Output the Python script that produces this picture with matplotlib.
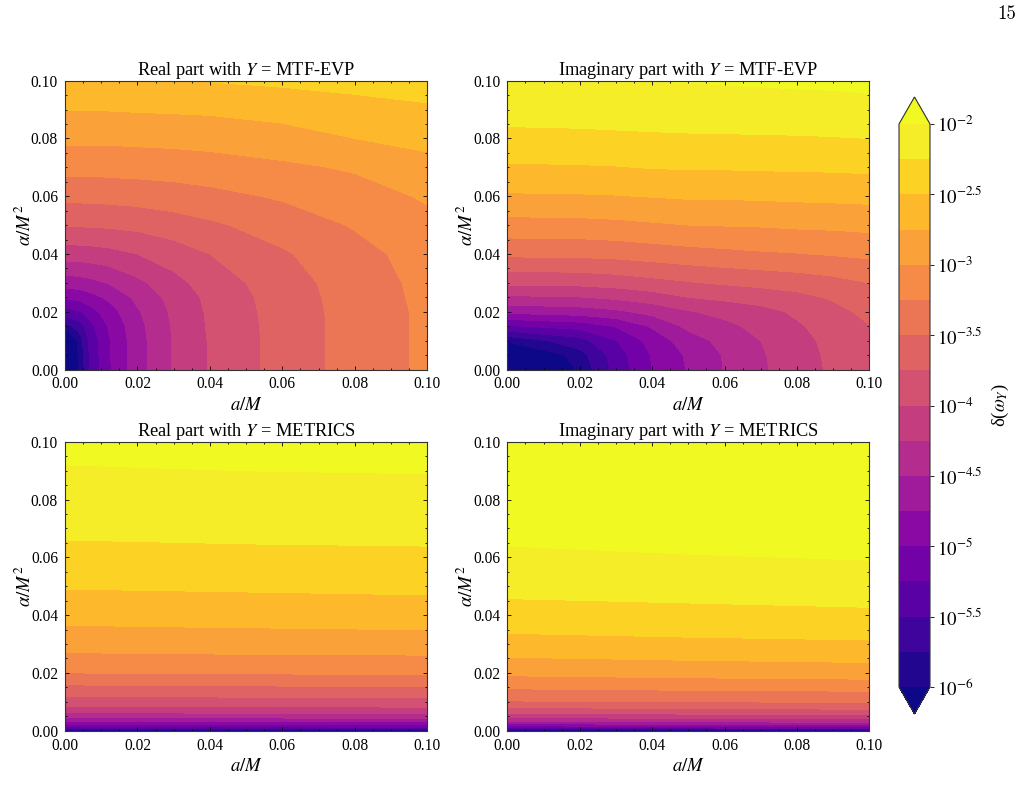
import matplotlib
matplotlib.use('Agg')
import matplotlib.pyplot as plt
from matplotlib.ticker import MultipleLocator

plt.rcParams['font.family'] = ['Liberation Serif', 'DejaVu Serif']
plt.rcParams['mathtext.fontset'] = 'stix'
plt.rcParams['axes.unicode_minus'] = False

# log10 of the relative difference on each (alpha, a) node
a_top_left = [0, .004, .007, .012, .02, .03, .04, .06, .08, .1]
alpha_top_left = [0, .01, .015, .02, .025, .03, .04, .05, .06, .07, .08, .09, .1]
real_evp = [
    [-7.00, -5.97, -5.46, -5.04, -4.60, -4.23, -3.98, -3.65, -3.40, -3.20],
    [-6.60, -5.88, -5.43, -5.03, -4.60, -4.23, -3.98, -3.65, -3.40, -3.20],
    [-5.87, -5.62, -5.32, -4.98, -4.58, -4.22, -3.97, -3.65, -3.40, -3.20],
    [-5.37, -5.27, -5.11, -4.87, -4.53, -4.20, -3.96, -3.64, -3.40, -3.20],
    [-4.96, -4.92, -4.84, -4.70, -4.44, -4.16, -3.94, -3.63, -3.39, -3.19],
    [-4.63, -4.61, -4.57, -4.49, -4.31, -4.08, -3.89, -3.61, -3.38, -3.18],
    [-4.13, -4.12, -4.11, -4.08, -4.00, -3.88, -3.75, -3.53, -3.33, -3.15],
    [-3.73, -3.73, -3.72, -3.71, -3.68, -3.61, -3.54, -3.39, -3.23, -3.07],
    [-3.43, -3.43, -3.43, -3.42, -3.40, -3.37, -3.32, -3.22, -3.11, -2.97],
    [-3.17, -3.17, -3.17, -3.16, -3.15, -3.13, -3.11, -3.05, -2.97, -2.83],
    [-2.95, -2.95, -2.95, -2.95, -2.94, -2.93, -2.91, -2.84, -2.75, -2.68],
    [-2.74, -2.74, -2.74, -2.74, -2.73, -2.72, -2.71, -2.67, -2.60, -2.54],
    [-2.55, -2.55, -2.55, -2.55, -2.54, -2.51, -2.49, -2.45, -2.41, -2.37],
]

a_top_right = [0, .02, .03, .04, .05, .06, .07, .08, .09, .1]
alpha_top_right = [0, .005, .01, .015, .02, .025, .03, .04, .05, .06, .07, .08, .09, .1]
imag_evp = [
    [-7.00, -5.94, -5.41, -5.00, -4.73, -4.49, -4.29, -4.11, -3.96, -3.83],
    [-6.60, -5.85, -5.38, -4.98, -4.71, -4.48, -4.28, -4.10, -3.95, -3.82],
    [-5.94, -5.60, -5.26, -4.90, -4.62, -4.42, -4.25, -4.08, -3.93, -3.79],
    [-5.28, -5.15, -4.98, -4.72, -4.44, -4.31, -4.18, -4.03, -3.90, -3.76],
    [-4.68, -4.62, -4.55, -4.42, -4.27, -4.18, -4.08, -3.96, -3.83, -3.68],
    [-4.29, -4.26, -4.20, -4.12, -4.00, -3.94, -3.89, -3.82, -3.72, -3.59],
    [-3.95, -3.93, -3.89, -3.83, -3.77, -3.72, -3.68, -3.64, -3.58, -3.50],
    [-3.45, -3.44, -3.42, -3.38, -3.34, -3.31, -3.28, -3.26, -3.23, -3.20],
    [-3.09, -3.08, -3.06, -3.03, -3.00, -2.99, -2.98, -2.96, -2.95, -2.93],
    [-2.78, -2.77, -2.76, -2.74, -2.72, -2.72, -2.71, -2.70, -2.69, -2.68],
    [-2.53, -2.52, -2.51, -2.49, -2.48, -2.48, -2.47, -2.47, -2.46, -2.45],
    [-2.32, -2.31, -2.30, -2.29, -2.28, -2.28, -2.27, -2.27, -2.26, -2.25],
    [-2.15, -2.14, -2.13, -2.12, -2.12, -2.11, -2.11, -2.10, -2.10, -2.09],
    [-2.01, -2.01, -2.00, -2.00, -1.99, -1.98, -1.97, -1.96, -1.95, -1.93],
]

a_bottom = [0, .05, .1]
alpha_bottom_left = [0, .001, .002, .003, .0045, .006, .0085, .012, .016, .02,
                     .027, .036, .049, .066, .092, .1]
real_metrics = [
    [-6.10, -6.05, -6.00],
    [-5.38, -5.35, -5.31],
    [-5.08, -5.05, -5.03],
    [-4.80, -4.79, -4.78],
    [-4.50, -4.48, -4.47],
    [-4.27, -4.26, -4.25],
    [-4.00, -3.98, -3.96],
    [-3.75, -3.72, -3.70],
    [-3.49, -3.47, -3.45],
    [-3.25, -3.23, -3.22],
    [-3.00, -2.98, -2.97],
    [-2.76, -2.74, -2.72],
    [-2.50, -2.48, -2.46],
    [-2.25, -2.23, -2.22],
    [-2.00, -1.98, -1.97],
    [-1.95, -1.92, -1.90],
]

alpha_bottom_right = [0, .001, .002, .003, .0045, .006, .008, .0103, .0145, .019,
                      .0254, .0337, .0457, .0639, .1]
imag_metrics = [
    [-6.10, -6.05, -6.00],
    [-5.25, -5.20, -5.15],
    [-4.88, -4.81, -4.75],
    [-4.57, -4.52, -4.48],
    [-4.25, -4.21, -4.17],
    [-4.00, -3.96, -3.93],
    [-3.75, -3.71, -3.68],
    [-3.50, -3.47, -3.45],
    [-3.25, -3.22, -3.20],
    [-3.00, -2.96, -2.93],
    [-2.75, -2.71, -2.68],
    [-2.50, -2.46, -2.43],
    [-2.25, -2.22, -2.19],
    [-2.00, -1.96, -1.93],
    [-1.60, -1.57, -1.55],
]

levels = [-6 + 0.25 * i for i in range(17)]
cbar_ticks = [-6, -5.5, -5, -4.5, -4, -3.5, -3, -2.5, -2]
cbar_labels = ['$10^{-6}$', '$10^{-5.5}$', '$10^{-5}$', '$10^{-4.5}$', '$10^{-4}$',
               '$10^{-3.5}$', '$10^{-3}$', '$10^{-2.5}$', '$10^{-2}$']
titles = ['Real part with $Y$ = MTF-EVP', 'Imaginary part with $Y$ = MTF-EVP',
          'Real part with $Y$ = METRICS', 'Imaginary part with $Y$ = METRICS']

W, H = 1023, 808


def pixel_axes(fig, left, top, right, bottom):
    return fig.add_axes([left / W, 1 - bottom / H, (right - left) / W, (bottom - top) / H])


fig = plt.figure(figsize=(W / 100, H / 100), dpi=100)

boxes = [(65, 80.7, 427.3, 369.5), (507.3, 80.7, 869.3, 369.5),
         (65, 441.7, 427.3, 730.7), (507.3, 441.7, 869.3, 730.7)]
grids = [(a_top_left, alpha_top_left, real_evp), (a_top_right, alpha_top_right, imag_evp),
         (a_bottom, alpha_bottom_left, real_metrics), (a_bottom, alpha_bottom_right, imag_metrics)]

for box, (xs, ys, zs), title in zip(boxes, grids, titles):
    ax = pixel_axes(fig, *box)
    cs = ax.contourf(xs, ys, zs, levels=levels, cmap='plasma', extend='both')
    ax.set_xlim(0, 0.1)
    ax.set_ylim(0, 0.1)
    ax.xaxis.set_major_locator(MultipleLocator(0.02))
    ax.yaxis.set_major_locator(MultipleLocator(0.02))
    ax.xaxis.set_minor_locator(MultipleLocator(0.005))
    ax.yaxis.set_minor_locator(MultipleLocator(0.005))
    ax.xaxis.set_major_formatter('{x:.2f}')
    ax.yaxis.set_major_formatter('{x:.2f}')
    ax.tick_params(which='both', direction='in', top=True, right=True, width=0.6, labelsize=11.2)
    ax.tick_params(which='major', length=3)
    ax.tick_params(which='minor', length=1.5)
    ax.tick_params(axis='x', which='major', pad=5)
    ax.tick_params(axis='y', which='major', pad=5)
    for s in ax.spines.values():
        s.set_linewidth(0.8)
        s.set_color('#333333')
    ax.set_title(title, fontsize=13.2, pad=4)
    ax.set_xlabel('$a/M$', fontsize=13.5, labelpad=3)
    ax.set_ylabel(r'$\alpha/M^2$', fontsize=13.5, labelpad=-3)

cax = pixel_axes(fig, 899, 97, 930, 714)
cbar = fig.colorbar(cs, cax=cax, extend='both', ticks=cbar_ticks, extendfrac=0.048)
cbar.ax.set_yticklabels(cbar_labels)
cbar.ax.minorticks_off()
cbar.ax.tick_params(labelsize=13.5, length=3, width=0.6, pad=2)
cbar.outline.set_linewidth(0.8)
cbar.outline.set_edgecolor('#333333')
cbar.set_label(r'δ($\omega_Y$)', fontsize=13.5, labelpad=5)

fig.text(1007 / W, 1 - 14 / H, '15', fontsize=13.5, family='cmr10', ha='center', va='center')

fig.savefig('out.png', dpi=100)
